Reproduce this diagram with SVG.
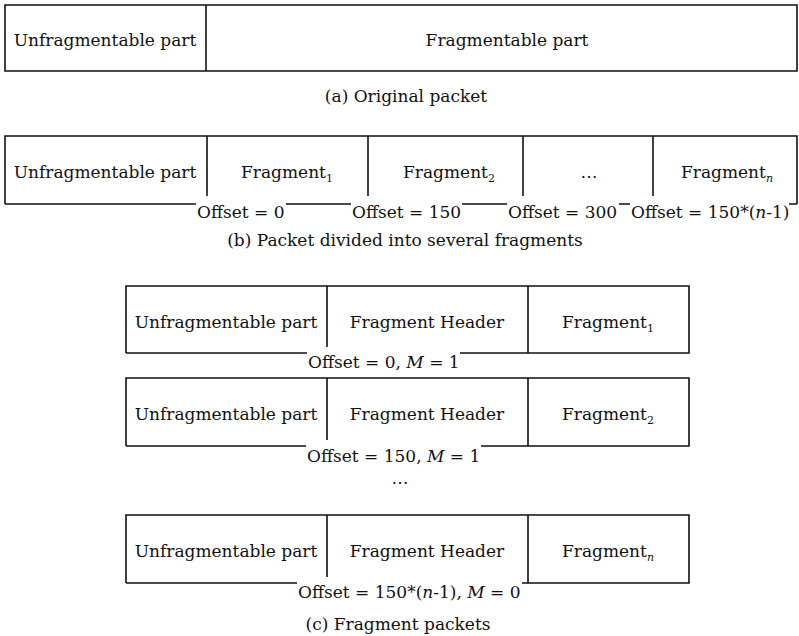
<svg xmlns="http://www.w3.org/2000/svg" width="799" height="636" viewBox="0 0 799 636">
  <style>
    text { font-family: "DejaVu Serif", "Liberation Serif", serif; font-size: 17px; fill: #111; }
    .c { text-anchor: middle; }
    .sub { font-size: 11px; }
    .it { font-style: italic; }
    .ln { fill: none; stroke: #111; stroke-width: 1.6; }
  </style>
  <rect width="799" height="636" fill="#fff"/>

  <!-- (a) original packet -->
  <g id="packet-original">
    <path class="ln" d="M5,5 H797 V71 H5 Z M206,5 V71"/>
    <text class="c" x="105" y="46">Unfragmentable part</text>
    <text class="c" x="507" y="46">Fragmentable part</text>
  </g>
  <text id="caption-a" class="c" x="406" y="102">(a) Original packet</text>

  <!-- (b) packet divided into fragments -->
  <g id="packet-divided">
    <path class="ln" d="M5,204 V136 H797 V204"/>
    <path class="ln" d="M5,204 H196 M286,204 H351 M462,204 H507 M619,204 H630 M789,204 H797"/>
    <path class="ln" d="M207,136 V196 M368,136 V196 M523,136 V196 M653,136 V196"/>
    <text class="c" x="105" y="178">Unfragmentable part</text>
    <text class="c" x="287" y="178">Fragment<tspan class="sub" dy="4">1</tspan></text>
    <text class="c" x="449" y="178">Fragment<tspan class="sub" dy="4">2</tspan></text>
    <text class="c" x="589" y="178">…</text>
    <text class="c" x="727" y="178">Fragment<tspan class="sub it" dy="4">n</tspan></text>
    <text x="197" y="218">Offset = 0</text>
    <text x="352" y="218">Offset = 150</text>
    <text x="508" y="218">Offset = 300</text>
    <text x="631" y="218">Offset = 150*(<tspan class="it">n</tspan>-1)</text>
  </g>
  <text id="caption-b" class="c" x="405" y="246">(b) Packet divided into several fragments</text>

  <!-- (c) fragment packets -->
  <g id="fragment-packet-1">
    <path class="ln" d="M126,353 V286 H689 V353 H460 M307,353 H126"/>
    <path class="ln" d="M327,286 V347 M528,286 V353"/>
    <text class="c" x="226" y="328">Unfragmentable part</text>
    <text class="c" x="427" y="328">Fragment Header</text>
    <text class="c" x="608" y="328">Fragment<tspan class="sub" dy="4">1</tspan></text>
    <text x="308" y="368">Offset = 0, <tspan class="it">M</tspan> = 1</text>
  </g>

  <g id="fragment-packet-2">
    <path class="ln" d="M126,446 V378 H689 V446 H481 M306,446 H126"/>
    <path class="ln" d="M327,378 V440 M528,378 V446"/>
    <text class="c" x="226" y="420">Unfragmentable part</text>
    <text class="c" x="427" y="420">Fragment Header</text>
    <text class="c" x="608" y="420">Fragment<tspan class="sub" dy="4">2</tspan></text>
    <text x="307" y="462">Offset = 150, <tspan class="it">M</tspan> = 1</text>
  </g>

  <text id="ellipsis-c" class="c" x="400" y="484">…</text>

  <g id="fragment-packet-n">
    <path class="ln" d="M126,583 V515 H689 V583 H522 M297,583 H126"/>
    <path class="ln" d="M327,515 V577 M528,515 V583"/>
    <text class="c" x="226" y="557">Unfragmentable part</text>
    <text class="c" x="427" y="557">Fragment Header</text>
    <text class="c" x="608" y="557">Fragment<tspan class="sub it" dy="4">n</tspan></text>
    <text x="298" y="598">Offset = 150*(<tspan class="it">n</tspan>-1), <tspan class="it">M</tspan> = 0</text>
  </g>
  <text id="caption-c" class="c" x="398" y="630">(c) Fragment packets</text>

  <!-- no connectors in this figure -->
  <g id="connectors"/>
</svg>
